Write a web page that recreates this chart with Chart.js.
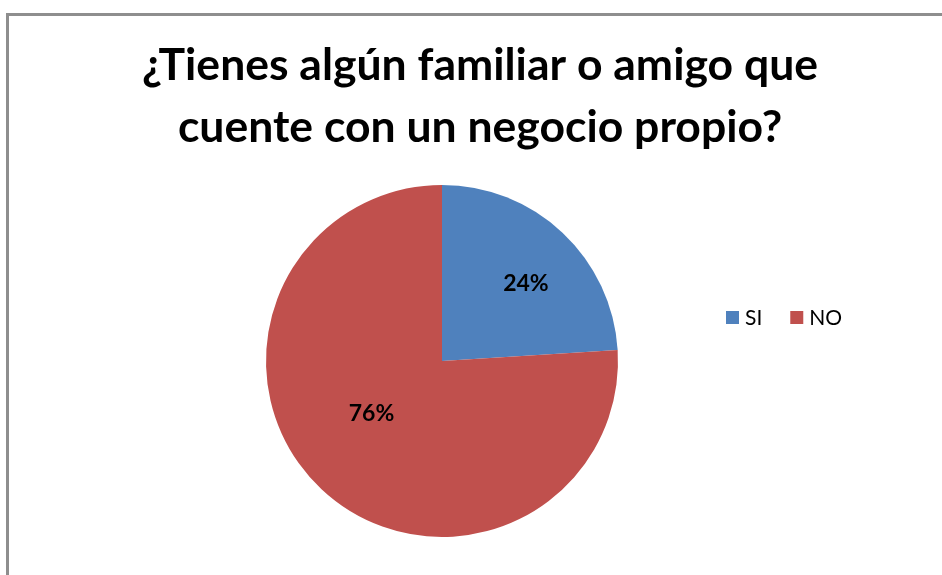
<!DOCTYPE html>
<html>
<head>
<meta charset="utf-8">
<script src="https://cdn.jsdelivr.net/npm/chart.js@4/dist/chart.umd.min.js"></script>
<style>
  html, body { margin: 0; padding: 0; background: #fff; overflow: hidden; }
  #frame {
    position: absolute; left: 6px; top: 13px;
    width: 942px; height: 559px;
    border-top: 3px solid #8e8e8e; border-left: 3px solid #8e8e8e;
  }
</style>
</head>
<body>
<div id="frame"><canvas id="myChart" width="942" height="559"></canvas></div>
<script>
const titleLines = ['¿Tienes algún familiar o amigo que', 'cuente con un negocio propio?'];
const labels = ['SI', 'NO'];
const values = [24, 76];
const colors = ['#4F81BD', '#C0504D'];

// percentage labels inside the slices (Excel puts them at different depths)
const sliceLabels = {
  id: 'sliceLabels',
  afterDatasetsDraw(chart) {
    const ctx = chart.ctx;
    const meta = chart.getDatasetMeta(0);
    const total = values.reduce((a, b) => a + b, 0);
    const depth = [0.65, 0.5];
    const shift = [4, 10];
    ctx.save();
    ctx.font = 'bold 23px Lato, "Open Sans", sans-serif';
    ctx.fillStyle = '#000';
    ctx.textAlign = 'center';
    ctx.textBaseline = 'middle';
    meta.data.forEach((arc, i) => {
      const mid = (arc.startAngle + arc.endAngle) / 2 + shift[i] * Math.PI / 180;
      const r = arc.outerRadius * depth[i];
      const x = arc.x + Math.cos(mid) * r;
      const y = arc.y + Math.sin(mid) * r;
      ctx.fillText(Math.round(values[i] / total * 100) + '%', x, y);
    });
    ctx.restore();
  }
};

// a right-hand layout box (keeps the title centred on the full width)
// that draws the legend horizontally, like Excel does
const sideLegend = {
  id: 'sideLegend',
  beforeInit(chart) {
    const box = {
      position: 'right',
      fullSize: false,
      weight: 1000,
      options: {},
      isHorizontal() { return false; },
      update(maxWidth, maxHeight) {
        this.width = 76;
        this.height = maxHeight;
      },
      draw() {
        const ctx = chart.ctx;
        let x = chart.chartArea.right - 149;
        const y = chart.chartArea.top + 132;
        ctx.save();
        ctx.font = '21px Lato, "Open Sans", sans-serif';
        ctx.textBaseline = 'middle';
        labels.forEach((lab, i) => {
          ctx.fillStyle = colors[i];
          ctx.fillRect(x, y - 6, 13, 13);
          ctx.fillStyle = '#000';
          ctx.fillText(lab, x + 19, y + 1);
          x += 19 + ctx.measureText(lab).width + 28;
        });
        ctx.restore();
      }
    };
    Chart.layouts.addBox(chart, box);
  }
};

const data = {
  labels: labels,
  datasets: [{
    data: values,
    backgroundColor: colors,
    borderWidth: 0,
    hoverOffset: 0
  }]
};

const config = {
  type: 'pie',
  data,
  options: {
    responsive: false,
    animation: false,
    events: [],
    layout: {
      padding: { left: 0, right: 0, top: 0, bottom: 38 }
    },
    plugins: {
      legend: { display: false },
      tooltip: { enabled: false },
      title: {
        display: true,
        text: titleLines,
        color: '#000',
        font: { family: 'Lato, "Open Sans", sans-serif', size: 44.5, weight: 'bold', lineHeight: '62px' },
        padding: { top: 19, bottom: 26 }
      }
    }
  },
  plugins: [sideLegend, sliceLabels]
};

var myChart = new Chart(
  document.getElementById('myChart'),
  config
);
</script>
</body>
</html>
